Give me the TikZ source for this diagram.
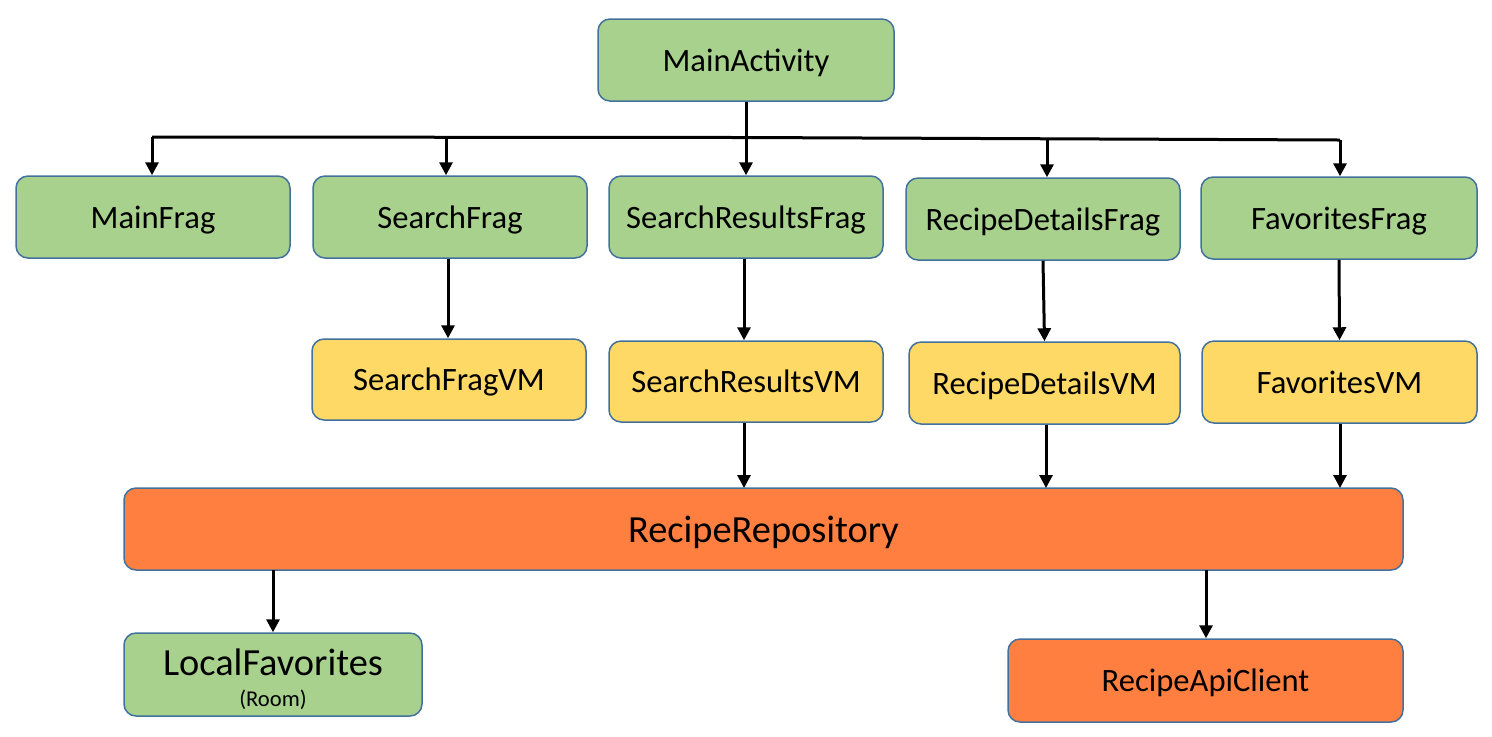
\documentclass[tikz,border=0pt]{standalone}
\usepackage{fontspec}
\setmainfont{Carlito}
\usetikzlibrary{arrows.meta}
\definecolor{gfill}{HTML}{A9D18E}
\definecolor{yfill}{HTML}{FFD966}
\definecolor{ofill}{HTML}{FF7F41}
\definecolor{bord}{HTML}{41719C}
\tikzset{
  box/.style={draw=bord, line width=0.75pt, rounded corners=6pt, font=\fontsize{16.3}{18}\selectfont, inner sep=0pt, text depth=0pt},
  gbox/.style={box, fill=gfill},
  ybox/.style={box, fill=yfill},
  obox/.style={box, fill=ofill},
  arr/.style={line width=1.5pt, -{Triangle[width=6.5pt,length=6.5pt]}},
  ln/.style={line width=1.5pt},
}
\begin{document}
\begin{tikzpicture}[x=0.5pt,y=-0.5pt]
\useasboundingbox (0,0) rectangle (1492,736);
\node[gbox, minimum width=148pt, minimum height=41pt] (ma) at (746,60) {MainActivity};
\node[gbox, minimum width=137pt, minimum height=41pt] (mf) at (153,217) {MainFrag};
\node[gbox, minimum width=137pt, minimum height=41pt] (sf) at (450,217) {SearchFrag};
\node[gbox, minimum width=137pt, minimum height=41pt] (srf) at (746,217) {SearchResultsFrag};
\node[gbox, minimum width=137pt, minimum height=41pt] (rdf) at (1043,219) {RecipeDetailsFrag};
\node[gbox, minimum width=138pt, minimum height=41pt] (ff) at (1339,218) {FavoritesFrag};
\node[ybox, minimum width=137pt, minimum height=40.5pt] (sfvm) at (449,379.5) {SearchFragVM};
\node[ybox, minimum width=137pt, minimum height=40.5pt] (srvm) at (746,381.5) {SearchResultsVM};
\node[ybox, minimum width=135.5pt, minimum height=41pt] (rdvm) at (1044.5,383) {RecipeDetailsVM};
\node[ybox, minimum width=137.5pt, minimum height=41pt] (fvm) at (1339.5,382) {FavoritesVM};
\node[obox, minimum width=639.5pt, minimum height=41pt, font=\fontsize{19.2}{21}\selectfont] (repo) at (763.5,529) {RecipeRepository};
\node[gbox, minimum width=149pt, minimum height=41.5pt, align=center] (lf) at (273,674.5) {{\fontsize{19.2}{21}\selectfont\rule{0pt}{\dimexpr\fontcharht\font`l+3.5pt\relax}LocalFavorites}\\[-2.5pt]{\fontsize{11.3}{12}\selectfont (Room)}};
\node[obox, minimum width=197.5pt, minimum height=41.5pt] (api) at (1205.5,680.5) {RecipeApiClient};
% tree from MainActivity
\coordinate (busL) at (152,137);
\coordinate (busM) at (746,137.5);
\coordinate (busR) at (1340,140);
\draw[ln] (busL) -- (busM) -- (busR);
\draw[arr] (ma.south) -- (srf.north);
\draw[arr] (busL) -- (busL |- mf.north);
\coordinate (b2) at (446,137.5);
\draw[arr] (b2) -- (b2 |- sf.north);
\coordinate (b4) at (1047,139);
\draw[arr] (b4) -- (b4 |- rdf.north);
\draw[arr] (busR) -- (busR |- ff.north);
% frag -> VM
\draw[arr] ([xshift=-1pt]sf.south) -- ([xshift=-0.5pt]sfvm.north);
\draw[arr] ([xshift=-1pt]srf.south) -- ([xshift=-1pt]srvm.north);
\draw[arr] (rdf.south) -- (rdvm.north);
\draw[arr] (ff.south) -- (fvm.north);
% VM -> repo
\coordinate (r1) at (744,488);
\coordinate (r2) at (1046,488);
\coordinate (r3) at (1340,488);
\draw[arr] ([xshift=-1pt]srvm.south) -- (r1);
\draw[arr] (rdvm.south -| r2) -- (r2);
\draw[arr] (fvm.south -| r3) -- (r3);
% repo -> lower
\coordinate (d1) at (273,570);
\coordinate (d2) at (1206,570);
\draw[arr] (d1) -- (d1 |- lf.north);
\draw[arr] (d2) -- (d2 |- api.north);
\end{tikzpicture}
\end{document}
